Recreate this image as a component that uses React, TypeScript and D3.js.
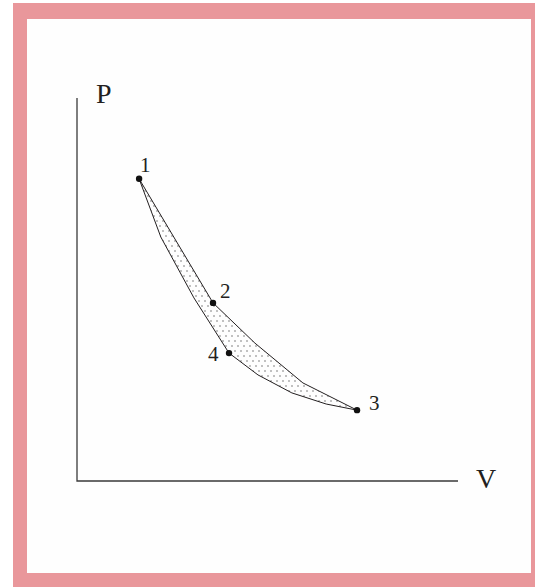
import React from 'react';
import * as d3 from 'd3';

// state points of the cycle (V, P in arbitrary units)
const stateLabels = ['1', '2', '3', '4'];
const stateV = [16.3, 35.7, 73.5, 39.9];
const stateP = [78.9, 46.5, 18.5, 33.4];

// upper path 1 -> 2 -> 3
const upperV = [16.3, 35.7, 46.7, 59.3, 73.5];
const upperP = [78.9, 46.5, 36.0, 25.6, 18.5];

// lower path 1 -> 4 -> 3
const lowerV = [16.3, 22.0, 30.7, 39.9, 47.5, 56.4, 65.4, 73.5];
const lowerP = [78.9, 63.7, 47.8, 33.4, 27.7, 23.0, 20.1, 18.5];

const W = 535;
const H = 587;
const origin = { x: 77, y: 481 };

const App = () => {
  const xScale = d3.scaleLinear().domain([0, 100]).range([origin.x, 458]);
  const yScale = d3.scaleLinear().domain([0, 100]).range([origin.y, 98]);

  const upper = upperV.map((v, i) => [v, upperP[i]] as [number, number]);
  const lower = lowerV.map((v, i) => [v, lowerP[i]] as [number, number]);

  const line = d3.line<[number, number]>()
    .x(d => xScale(d[0]))
    .y(d => yScale(d[1]));

  const area = [...upper, ...lower.slice().reverse()];

  // label offsets next to each state point
  const labelDx = [1, 7, 12, -21];
  const labelDy = [-7, -5, 0, 8];

  const serif = '"Liberation Serif", "Times New Roman", serif';

  return (
    <svg width={W} height={H} style={{ position: 'absolute', left: 0, top: 0 }}>
      <defs>
        <pattern id="stipple" width={6} height={10} patternUnits="userSpaceOnUse">
          <circle cx={1} cy={1} r={0.7} fill="#555" />
          <circle cx={4} cy={6} r={0.7} fill="#555" />
        </pattern>
      </defs>

      {/* pink frame */}
      <rect x={13} y={3} width={W - 13} height={H - 3} fill="#e9979b" />
      <rect x={27} y={19} width={504} height={554} fill="#fefefe" />

      {/* axes */}
      <path
        d={`M${xScale(0)},${yScale(100)}V${yScale(0)}H${xScale(100)}`}
        fill="none"
        stroke="#3a3a3a"
        strokeWidth={1.3}
      />
      <text x={96} y={103} fontFamily={serif} fontSize={28} fill="#231f20">P</text>
      <text x={476} y={488} fontFamily={serif} fontSize={28} fill="#231f20">V</text>

      {/* shaded cycle */}
      <path d={line(area) + 'Z'} fill="url(#stipple)" stroke="none" />
      <path d={line(upper) ?? ''} fill="none" stroke="#231f20" strokeWidth={1} />
      <path d={line(lower) ?? ''} fill="none" stroke="#231f20" strokeWidth={1} />

      {stateLabels.map((lab, i) => (
        <g key={lab}>
          <circle cx={xScale(stateV[i])} cy={yScale(stateP[i])} r={3.2} fill="#111" />
          <text
            x={xScale(stateV[i]) + labelDx[i]}
            y={yScale(stateP[i]) + labelDy[i]}
            fontFamily={serif}
            fontSize={21}
            fill="#231f20"
          >
            {lab}
          </text>
        </g>
      ))}
    </svg>
  );
};

export default App;
